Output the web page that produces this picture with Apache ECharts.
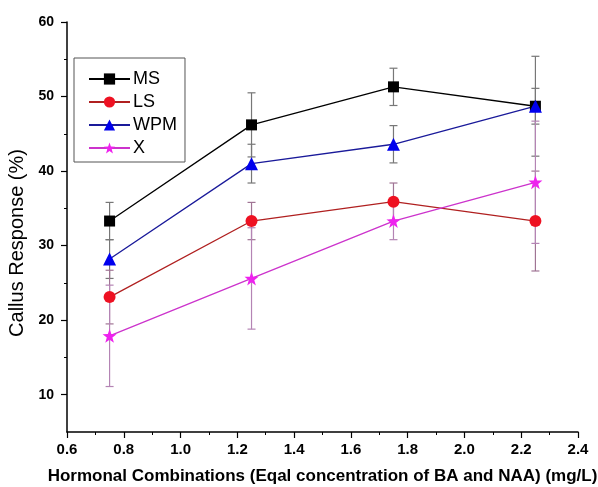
<!DOCTYPE html>
<html>
<head>
<meta charset="utf-8">
<script src="https://cdn.jsdelivr.net/npm/echarts@6/dist/echarts.min.js"></script>
<style>html,body{margin:0;padding:0;background:#fff}#c{width:598px;height:487px}</style>
</head>
<body>
<div id="c"></div>
<script>
const xVals = [0.75, 1.25, 1.75, 2.25];
const msVals = [33.3, 46.2, 51.3, 48.7];
const lsVals = [23.1, 33.3, 35.9, 33.3];
const wpmVals = [28.2, 41.0, 43.6, 48.7];
const xsVals = [17.9, 25.6, 33.3, 38.5];
const msErr = [2.5, 4.3, 2.5, 6.7];
const lsErr = [3.6, 2.5, 2.5, 6.7];
const wpmErr = [2.6, 2.6, 2.5, 2.4];
const xsErr = [6.8, 6.8, 2.5, 8.2];
const yMajorTicks = [10, 20, 30, 40, 50, 60];
const yMinorTicks = [15, 25, 35, 45, 55];
const seriesNames = ['MS', 'LS', 'WPM', 'X'];

const FONT = 'Liberation Sans, Arial, sans-serif';
const starPath = 'path://M0,-10 L2.35,-3.24 L9.51,-3.09 L3.8,1.24 L5.88,8.09 L0,4 L-5.88,8.09 L-3.8,1.24 L-9.51,-3.09 L-2.35,-3.24 Z';

function pts(vals){ return xVals.map((x,i)=>[x, vals[i]]); }
function errPts(vals, errs){ return xVals.map((x,i)=>[x, vals[i]-errs[i], vals[i]+errs[i]]); }
function errSeries(vals, errs, color){
  return {
    type: 'custom', z: 1, silent: true,
    data: errPts(vals, errs),
    encode: {x: 0, y: [1, 2]},
    renderItem: function(params, api){
      const x = api.value(0), lo = api.value(1), hi = api.value(2);
      const a = api.coord([x, lo]), b = api.coord([x, hi]);
      const w = 4;
      const st = {stroke: color, lineWidth: 1.2};
      return {type: 'group', children: [
        {type: 'line', shape: {x1: a[0], y1: a[1], x2: b[0], y2: b[1]}, style: st},
        {type: 'line', shape: {x1: a[0]-w, y1: a[1], x2: a[0]+w, y2: a[1]}, style: st},
        {type: 'line', shape: {x1: b[0]-w, y1: b[1], x2: b[0]+w, y2: b[1]}, style: st}
      ]};
    }
  };
}
function lineSeries(name, vals, lineColor, markColor, symbol, size){
  return {
    name: name, type: 'line', z: 3, data: pts(vals),
    symbol: symbol, symbolSize: size, showAllSymbol: true,
    lineStyle: {color: lineColor, width: 1.3},
    itemStyle: {color: markColor, borderColor: markColor, borderWidth: 0},
    emphasis: {disabled: true}
  };
}

const chart = echarts.init(document.getElementById('c'));
chart.setOption({
  animation: false,
  backgroundColor: '#ffffff',
  grid: {left: 67, right: 20, top: 22, bottom: 55, containLabel: false, outerBoundsMode: 'none'},
  legend: {
    data: seriesNames,
    orient: 'vertical',
    left: 74, top: 58,
    padding: [12, 8, 5, 14],
    itemGap: 5,
    itemWidth: 41, itemHeight: 14,
    borderColor: '#555', borderWidth: 1,
    textStyle: {fontFamily: FONT, fontSize: 18, color: '#000', padding: [0,0,0,-2]}
  },
  xAxis: {
    type: 'value', min: 0.6, max: 2.4, interval: 0.2,
    name: 'Hormonal Combinations (Eqal concentration of BA and NAA) (mg/L)',
    nameLocation: 'middle', nameGap: 36,
    nameTextStyle: {fontFamily: FONT, fontSize: 17, fontWeight: 'bold', color: '#000'},
    axisLine: {show: true, lineStyle: {color: '#000', width: 1.5}},
    axisTick: {show: true, length: 6, lineStyle: {color: '#000', width: 1.2}},
    minorTick: {show: true, splitNumber: 2, length: 3, lineStyle: {color: '#000', width: 1}},
    axisLabel: {fontFamily: FONT, fontSize: 15, fontWeight: 'bold', color: '#000', margin: 10,
      formatter: v => v.toFixed(1)},
    splitLine: {show: false}
  },
  yAxis: [{
    type: 'value', min: 5, max: 60,
    name: 'Callus Response (%)',
    nameLocation: 'middle', nameGap: 34,
    nameTextStyle: {fontFamily: FONT, fontSize: 20, color: '#000', padding: [0, 32, 0, 0]},
    axisLine: {show: true, lineStyle: {color: '#000', width: 1.5}},
    axisTick: {show: true, length: 6, customValues: yMajorTicks, lineStyle: {color: '#000', width: 1.2}},
    axisLabel: {fontFamily: FONT, fontSize: 14, fontWeight: 'bold', color: '#000', margin: 13,
      customValues: yMajorTicks},
    splitLine: {show: false}
  }, {
    type: 'value', min: 5, max: 60, position: 'left',
    axisLine: {show: false},
    axisTick: {show: true, length: 3, customValues: yMinorTicks, lineStyle: {color: '#000', width: 1}},
    axisLabel: {show: false},
    splitLine: {show: false}
  }],
  series: [
    errSeries(msVals, msErr, '#777777'),
    errSeries(wpmVals, wpmErr, '#777777'),
    errSeries(lsVals, lsErr, '#a07494'),
    errSeries(xsVals, xsErr, '#b484b4'),
    lineSeries('MS', msVals, '#000000', '#000000', 'rect', 11),
    lineSeries('LS', lsVals, '#b02020', '#ee1122', 'circle', 12),
    lineSeries('WPM', wpmVals, '#1a1a9a', '#0000ee', 'triangle', 13),
    lineSeries('X', xsVals, '#cc33cc', '#ee22ee', starPath, 14)
  ]
});
</script>
</body>
</html>
